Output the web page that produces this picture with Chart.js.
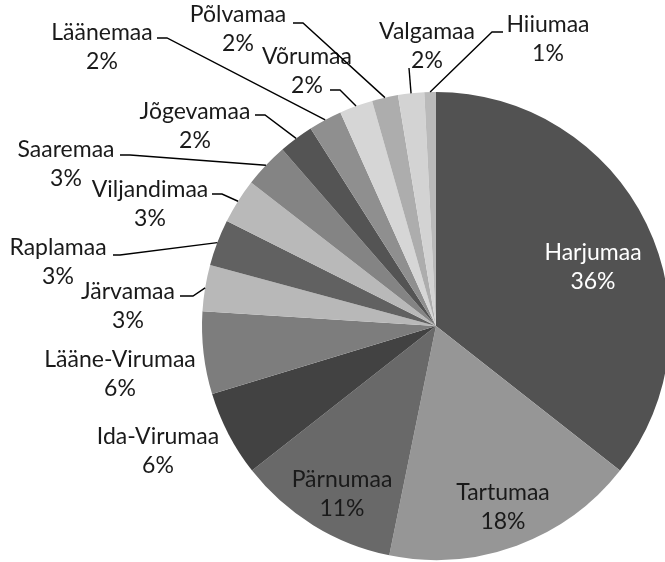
<!DOCTYPE html>
<html>
<head>
<meta charset="utf-8">
<script src="https://cdn.jsdelivr.net/npm/chart.js@4"></script>
<style>
  html, body { margin: 0; padding: 0; background: #fff; overflow: hidden; }
  #wrap { width: 700px; height: 562px; }
</style>
</head>
<body>
<div id="wrap"><canvas id="chartCounties" width="700" height="562"></canvas></div>
<script>
var counties = ["Harjumaa", "Tartumaa", "Pärnumaa", "Ida-Virumaa", "Lääne-Virumaa", "Järvamaa", "Raplamaa",
    "Viljandimaa", "Saaremaa", "Jõgevamaa", "Läänemaa", "Võrumaa", "Põlvamaa", "Valgamaa", "Hiiumaa"];
var shares = [35.6, 17.6, 11.2, 5.9, 5.7, 3.2, 3.2, 3.1, 3.1, 2.4, 2.3, 2.3, 1.8, 1.8, 0.8];
var greys = ["#525252", "#969696", "#696969", "#424242", "#7d7d7d", "#b8b8b8", "#616161",
    "#b9b9b9", "#848484", "#545454", "#8f8f8f", "#d6d6d6", "#adadad", "#d3d3d3", "#bababa"];

// label layout: centre of the name line; leader = [startX, startY, elbowX] or null
var labelAt = [[593, 253], [503, 493], [342, 480], [158, 437], [120, 360], [128, 292], [58, 248],
    [150, 190], [66, 150], [195, 112], [102, 33], [307, 57], [238, 15], [427, 32], [548, 25]];
var leaders = [null, null, null, null, null, [180, 296, 193], [113, 255, 120],
    [212, 194, 222], [120, 155, 130], [255, 115, 265], [157, 38, 167], [330, 90, 340],
    [293, 23, 303], [409, 68, 409], [503, 32, 492]];
var whiteText = [true, false, false, false, false, false, false, false, false, false, false, false, false, false, false];

var fontSize = 23;
var lineGap = 29;

var labelPlugin = {
    id: "countyLabels",
    afterDatasetsDraw: function (chart) {
        var ctx = chart.ctx;
        var meta = chart.getDatasetMeta(0);
        var total = 0;
        shares.forEach(function (v) { total += v; });

        ctx.save();
        ctx.font = fontSize + "px Lato, 'Open Sans', sans-serif";
        ctx.textAlign = "center";
        ctx.textBaseline = "middle";

        meta.data.forEach(function (arc, i) {
            var p = arc.getProps(["x", "y", "startAngle", "endAngle", "outerRadius"], true);
            var mid = (p.startAngle + p.endAngle) / 2;
            var ax = p.x + Math.cos(mid) * p.outerRadius;
            var ay = p.y + Math.sin(mid) * p.outerRadius;

            var ld = leaders[i];
            if (ld) {
                ctx.strokeStyle = "#000";
                ctx.lineWidth = 1.4;
                ctx.beginPath();
                ctx.moveTo(ld[0], ld[1]);
                ctx.lineTo(ld[2], ld[1]);
                ctx.lineTo(ax, ay);
                ctx.stroke();
            }

            var pct = Math.round(shares[i] / total * 100) + "%";
            ctx.fillStyle = whiteText[i] ? "#ffffff" : "#1a1a1a";
            ctx.fillText(counties[i], labelAt[i][0], labelAt[i][1]);
            ctx.fillText(pct, labelAt[i][0], labelAt[i][1] + lineGap);
        });
        ctx.restore();
    }
};

var ctx = document.getElementById("chartCounties");
var myChart = new Chart(ctx, {
    type: "pie",
    data: {
        labels: counties,
        datasets: [{
            data: shares,
            backgroundColor: greys,
            borderWidth: 0
        }]
    },
    options: {
        responsive: false,
        animation: false,
        layout: { padding: { left: 202, top: 92, right: 30, bottom: 2 } },
        plugins: {
            legend: { display: false },
            tooltip: { enabled: false }
        }
    },
    plugins: [labelPlugin]
});
</script>
</body>
</html>
